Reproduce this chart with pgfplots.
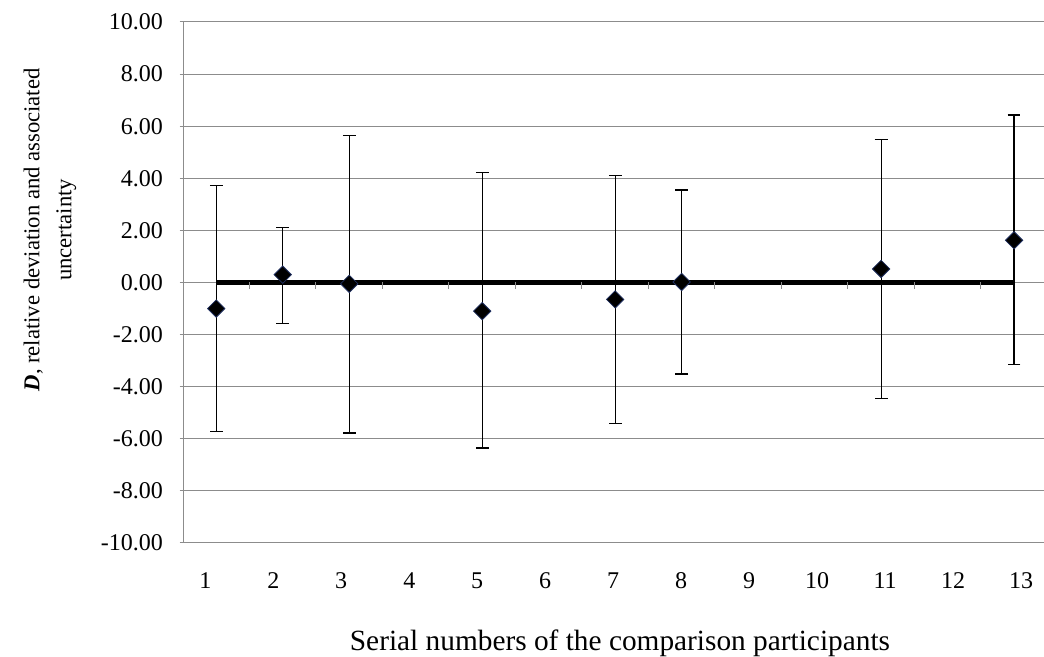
\documentclass[border=0pt]{standalone}
\usepackage{pgfplots}
\pgfplotsset{compat=1.18}
\usepackage{pgfplotstable}
\usepackage{fontspec}
\setmainfont{Liberation Serif}
\definecolor{gridgrey}{HTML}{8C8C8C}
\definecolor{edgeblue}{HTML}{1F2F5F}
\pgfplotstableread{
x y ep em
1 -1.00 4.72 4.72
2 0.30 1.82 1.88
3 -0.05 5.70 5.73
5 -1.10 5.33 5.25
7 -0.65 4.75 4.75
8 0.02 3.53 3.53
11 0.52 4.98 4.98
13 1.62 4.81 4.77
}\datatable
\begin{document}
\begin{tikzpicture}
\useasboundingbox (0,0) rectangle (783pt,492pt);
\begin{axis}[
  at={(137.25pt,84.75pt)}, anchor=south west,
  scale only axis, width=645.75pt, height=390.75pt,
  xmin=0.5, xmax=13.45, ymin=-10, ymax=10,
  axis x line=none, axis y line=left,
  y axis line style={gridgrey, line width=0.75pt, -},
  ytick={-10,-8,...,10},
  yticklabels={-10.00,-8.00,-6.00,-4.00,-2.00,0.00,2.00,4.00,6.00,8.00,10.00},
  ymajorgrids, grid style={gridgrey, line width=0.75pt},
  tick align=outside, major tick length=2.5pt,
  y tick style={gridgrey, line width=0.75pt},
  yticklabel style={font=\fontsize{18pt}{21pt}\selectfont, anchor=east, xshift=-9pt},
  xtick=\empty,
  ylabel={\textbf{\textit{D}}, relative deviation and associated\\uncertainty},
  ylabel style={at={(rel axis cs:-0.1545,0.601)}, anchor=center, align=center, font=\fontsize{17pt}{24pt}\selectfont},
  clip=false,
]
\addplot[black, line width=3.75pt, no marks] coordinates {(1,0) (13,0)};
\addplot[only marks, mark=square*, mark size=4.6pt,
  mark options={rotate=45, fill=black, draw=edgeblue, line width=0.6pt},
  error bars/.cd, y dir=both, y explicit, error mark=|,
  error bar style={black, line width=0.9pt},
  error mark options={black, line width=0.9pt, mark size=4.8pt}]
  table[x=x, y=y, y error plus=ep, y error minus=em] {\datatable};
\end{axis}
% overlay axis: x axis crossing at zero with tick marks between categories
\begin{axis}[
  at={(137.25pt,84.75pt)}, anchor=south west,
  scale only axis, width=645.75pt, height=390.75pt,
  xmin=0.5, xmax=13.45, ymin=-10, ymax=10,
  axis x line=middle, axis y line=none,
  x axis line style={draw=none},
  xtick={1.5,2.5,...,12.5}, xticklabels={},
  tick align=outside, major tick length=5pt,
  x tick style={gridgrey, line width=0.75pt},
  ytick=\empty,
]
\end{axis}
% overlay axis: bottom category labels and axis title
\begin{axis}[
  at={(137.25pt,84.75pt)}, anchor=south west,
  scale only axis, width=645.75pt, height=390.75pt,
  xmin=0.5, xmax=13.45, ymin=-10, ymax=10,
  axis x line=bottom, axis y line=none,
  x axis line style={draw=none},
  xtick={0.835,1.858,2.880,3.903,4.925,5.948,6.970,7.993,9.015,10.038,11.060,12.083,13.105},
  xticklabels={1,2,3,4,5,6,7,8,9,10,11,12,13},
  major tick length=0pt,
  xticklabel style={font=\fontsize{18pt}{21pt}\selectfont, anchor=center, yshift=-28pt},
  ytick=\empty,
  xlabel={Serial numbers of the comparison participants},
  xlabel style={at={(rel axis cs:0.5075,0)}, anchor=center, yshift=-75pt, font=\fontsize{22pt}{26pt}\selectfont},
]
\end{axis}
\end{tikzpicture}
\end{document}
